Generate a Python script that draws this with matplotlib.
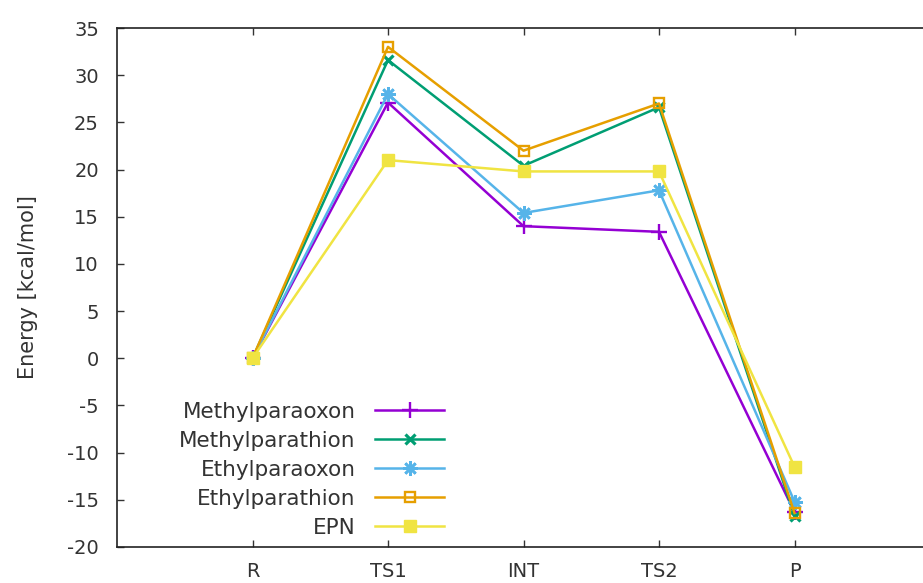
import matplotlib
matplotlib.use("Agg")
import matplotlib.pyplot as plt
from matplotlib.transforms import IdentityTransform

plt.rcParams['font.family'] = ['DejaVu Sans']
plt.rcParams['font.size'] = 14
plt.rcParams['axes.unicode_minus'] = False

# reaction coordinate and relative energies (kcal/mol)
stages = ["R", "TS1", "INT", "TS2", "P"]
methylparaoxon = [0.0, 27.1, 14.0, 13.4, -16.3]
methylparathion = [0.0, 31.6, 20.4, 26.6, -16.7]
ethylparaoxon = [0.0, 28.0, 15.4, 17.8, -15.2]
ethylparathion = [0.0, 33.0, 22.0, 27.0, -16.4]
epn = [0.0, 21.0, 19.8, 19.8, -11.5]

series = [
    ("Methylparaoxon", methylparaoxon, "#9400d3", dict(marker="+", markersize=11, markeredgewidth=1.7)),
    ("Methylparathion", methylparathion, "#009e73", dict(marker="x", markersize=7.5, markeredgewidth=2.3)),
    ("Ethylparaoxon", ethylparaoxon, "#56b4e9", dict(marker=(8, 2, 0), markersize=10.5, markeredgewidth=1.9)),
    ("Ethylparathion", ethylparathion, "#e69f00", dict(marker="s", markersize=7.5, markerfacecolor="none",
                                                       markeredgewidth=1.7)),
    ("EPN", epn, "#f0e442", dict(marker="s", markersize=8.5)),
]

fig = plt.figure(figsize=(9.23, 5.83), dpi=100)
ax = fig.add_axes([117 / 923, 1 - 547 / 583, 813 / 923, 519 / 583])

x = list(range(len(stages)))
for name, vals, col, mk in series:
    ax.plot(x, vals, color=col, lw=1.8, label=name, **mk)

ax.set_xlim(-1, 5)
ax.set_ylim(-20, 35)
ax.set_yticks(range(-20, 36, 5))
ax.set_xticks(x)
ax.set_xticklabels(stages)

ax.tick_params(axis="both", direction="in", length=5, width=1, colors="#333333", labelsize=14)
ax.tick_params(axis="x", pad=11, top=True)
ax.tick_params(axis="y", pad=13)
for s in ax.spines.values():
    s.set_color("#222222")
    s.set_linewidth(1.2)

ax.set_ylabel("Energy [kcal/mol]", fontsize=15, color="#333333", labelpad=21)

leg = ax.legend(loc="lower right", bbox_to_anchor=(444, 583 - 538), bbox_transform=IdentityTransform(),
                markerfirst=False, frameon=False, handlelength=3.2, handletextpad=0.9,
                labelspacing=0.42, borderpad=0, borderaxespad=0, fontsize=15.5)
for t in leg.get_texts():
    t.set_color("#333333")

fig.savefig("out.png", dpi=100)
